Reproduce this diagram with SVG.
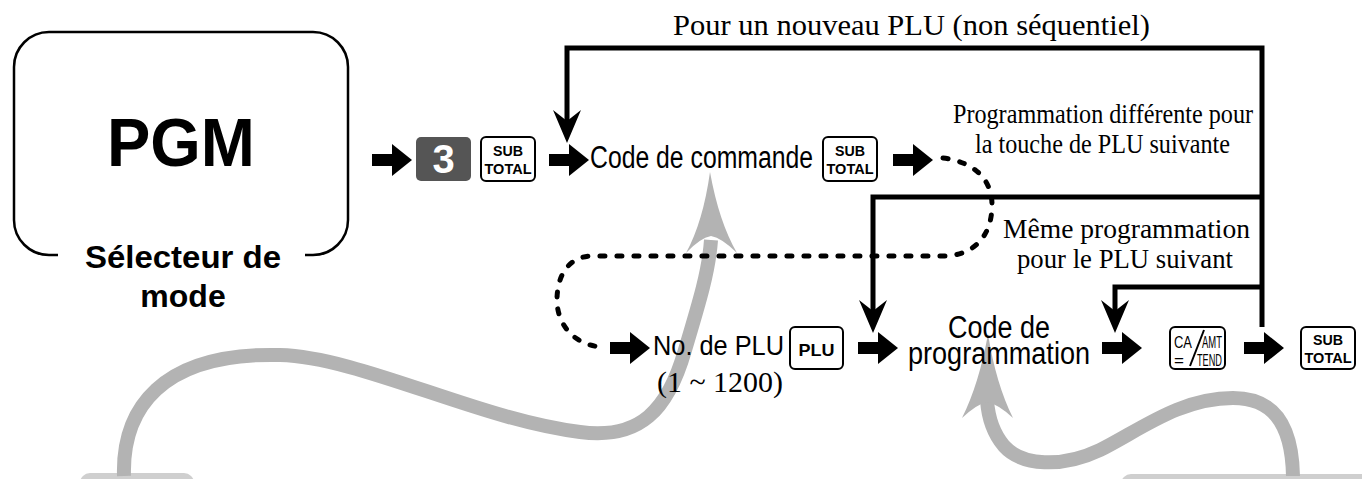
<svg xmlns="http://www.w3.org/2000/svg" width="1362" height="479" viewBox="0 0 1362 479">
<style>
.sans{font-family:"Liberation Sans",Arial,sans-serif;fill:#000}
.bold{font-weight:bold}
.serif{font-family:"Liberation Serif","Times New Roman",serif;fill:#000}
.key{fill:#fff;stroke:#000;stroke-width:2}
.kt{font-family:"Liberation Sans",Arial,sans-serif;font-weight:bold;font-size:15px;fill:#000}
.line{fill:none;stroke:#000;stroke-width:5}
.dots{fill:none;stroke:#000;stroke-width:5;stroke-dasharray:5 12;stroke-linecap:round}
.gray{fill:none;stroke:#b3b3b3;stroke-width:14}
.grayhead{fill:#b3b3b3}
</style>
<defs>
<path id="arr" d="M0,-6 H20 V-16 L40,0 L20,16 V6 H0 Z" fill="#000"/>
<path id="down" d="M0,0 L-14,-33 L0,-22 L14,-33 Z" fill="#000"/>
</defs>
<rect width="1362" height="479" fill="#fff"/>

<g id="gray-arrows">
<rect x="80" y="473" width="114" height="30" rx="10" fill="#cfcfcf"/>
<rect x="1121" y="474" width="260" height="30" rx="10" fill="#cfcfcf"/>
<path class="gray" d="M124,476 C122,410 160,352 280,355 C360,357 480,420 580,432 C640,440 668,410 685,350 C700,300 709,270 711,240"/>
<path class="grayhead" d="M710,172 Q719,222 737,253 Q722,238 711,236 Q700,238 686,253 Q703,222 710,172 Z"/>
<path class="gray" d="M1293,476 C1292,420 1270,398 1233,398 C1180,398 1140,430 1100,450 C1062,468 1022,466 1004,446 C993,433 988,415 987,400"/>
<path class="grayhead" d="M988,334 Q996,384 1013,418 Q998,404 987,402 Q977,404 962,418 Q979,384 988,334 Z"/>
</g>

<g id="pgm-node">
<path d="M58,255 H49 A35,35 0 0 1 14,220 V67 A35,35 0 0 1 49,32 H313 A35,35 0 0 1 348,67 V220 A35,35 0 0 1 313,255 H305" fill="none" stroke="#000" stroke-width="2.5"/>
<text class="sans bold" x="181" y="166" font-size="68" text-anchor="middle" textLength="148" lengthAdjust="spacingAndGlyphs">PGM</text>
<text class="sans bold" x="183" y="268" font-size="32" text-anchor="middle" textLength="196" lengthAdjust="spacingAndGlyphs">Sélecteur de</text>
<text class="sans bold" x="183" y="307" font-size="32" text-anchor="middle">mode</text>
</g>

<g id="key-3">
<rect x="416" y="137" width="55" height="44" rx="5" fill="#555"/>
<text class="sans bold" x="443.5" y="173" font-size="40" text-anchor="middle" style="fill:#fff">3</text>
</g>

<g id="key-subtotal-1">
<rect class="key" x="481" y="137" width="54" height="44" rx="5"/>
<text class="kt" x="508" y="156" text-anchor="middle" textLength="30" lengthAdjust="spacingAndGlyphs">SUB</text>
<text class="kt" x="508" y="174" text-anchor="middle" textLength="47" lengthAdjust="spacingAndGlyphs">TOTAL</text>
</g>

<g id="code-commande">
<text class="sans" x="590" y="168" font-size="31" textLength="223" lengthAdjust="spacingAndGlyphs">Code de commande</text>
</g>

<g id="key-subtotal-2">
<rect class="key" x="823" y="137" width="54" height="44" rx="5"/>
<text class="kt" x="850" y="156" text-anchor="middle" textLength="30" lengthAdjust="spacingAndGlyphs">SUB</text>
<text class="kt" x="850" y="174" text-anchor="middle" textLength="47" lengthAdjust="spacingAndGlyphs">TOTAL</text>
</g>

<g id="no-plu">
<text class="sans" x="653" y="355" font-size="28" textLength="131" lengthAdjust="spacingAndGlyphs">No. de PLU</text>
<text class="serif" x="657" y="392" font-size="29" textLength="126" lengthAdjust="spacingAndGlyphs">(1 ~ 1200)</text>
</g>

<g id="key-plu">
<rect class="key" x="790" y="327" width="53" height="42" rx="5"/>
<text class="sans bold" x="816.5" y="356" font-size="17" text-anchor="middle" textLength="36" lengthAdjust="spacingAndGlyphs">PLU</text>
</g>

<g id="code-programmation">
<text class="sans" x="999" y="338" font-size="31" text-anchor="middle" textLength="102" lengthAdjust="spacingAndGlyphs">Code de</text>
<text class="sans" x="999" y="364" font-size="31" text-anchor="middle" textLength="182" lengthAdjust="spacingAndGlyphs">programmation</text>
</g>

<g id="key-ca-amt">
<rect class="key" x="1170" y="327" width="55" height="42" rx="5"/>
<text class="sans" x="1174" y="348" font-size="17" textLength="18" lengthAdjust="spacingAndGlyphs">CA</text>
<text class="sans" x="1202" y="348" font-size="17" textLength="20" lengthAdjust="spacingAndGlyphs">AMT</text>
<text class="sans" x="1174" y="366" font-size="17">=</text>
<text class="sans" x="1197" y="366" font-size="17" textLength="25" lengthAdjust="spacingAndGlyphs">TEND</text>
<line x1="1190" y1="366" x2="1204" y2="330" stroke="#000" stroke-width="2"/>
</g>

<g id="key-subtotal-3">
<rect class="key" x="1301" y="327" width="54" height="42" rx="5"/>
<text class="kt" x="1328" y="345" text-anchor="middle" textLength="30" lengthAdjust="spacingAndGlyphs">SUB</text>
<text class="kt" x="1328" y="363" text-anchor="middle" textLength="47" lengthAdjust="spacingAndGlyphs">TOTAL</text>
</g>

<g id="labels">
<text class="serif" x="673" y="35" font-size="30" textLength="477" lengthAdjust="spacingAndGlyphs">Pour un nouveau PLU (non séquentiel)</text>
<text class="serif" x="953" y="123" font-size="27" textLength="300" lengthAdjust="spacingAndGlyphs">Programmation différente pour</text>
<text class="serif" x="975" y="153" font-size="27" textLength="255" lengthAdjust="spacingAndGlyphs">la touche de PLU suivante</text>
<text class="serif" x="1003" y="238" font-size="28" textLength="247" lengthAdjust="spacingAndGlyphs">Même programmation</text>
<text class="serif" x="1017" y="268" font-size="28" textLength="216" lengthAdjust="spacingAndGlyphs">pour le PLU suivant</text>
</g>

<g id="connectors">
<path class="dots" d="M943,158 C975,162 992,180 992,205 C992,235 975,255 945,256 H590 C565,258 557,280 557,300 C557,325 575,346 603,347"/>
<path class="line" d="M1262,327 V48 H567 V125"/>
<path class="line" d="M1262,197 H873 V315"/>
<path class="line" d="M1262,287 H1115 V315"/>
<use href="#down" x="567" y="143"/>
<use href="#down" x="873" y="333"/>
<use href="#down" x="1115" y="333"/>
<use href="#arr" x="372" y="160"/>
<use href="#arr" x="549" y="160"/>
<use href="#arr" x="893" y="160"/>
<use href="#arr" x="610" y="348"/>
<use href="#arr" x="858" y="348"/>
<use href="#arr" x="1102" y="348"/>
<use href="#arr" x="1244" y="348"/>
</g>
</svg>
